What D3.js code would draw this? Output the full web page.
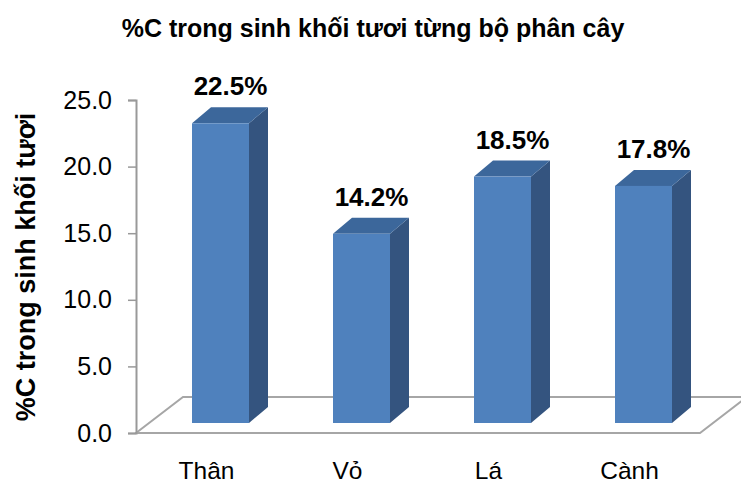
<!DOCTYPE html>
<html>
<head>
<meta charset="utf-8">
<script src="https://cdn.jsdelivr.net/npm/d3@7"></script>
<style>
  html, body { margin: 0; padding: 0; background: #fff; }
  svg { display: block; font-family: "Liberation Sans", Arial, sans-serif; }
</style>
</head>
<body>
<svg id="chart" width="741" height="485"></svg>
<script>
// Share of carbon in fresh biomass, by tree part
const categories = ["Thân", "Vỏ", "Lá", "Cành"];
const carbonPct = [22.5, 14.2, 18.5, 17.8];
const tickValues = [0, 5, 10, 15, 20, 25];

const svg = d3.select("#chart");

// Front-left plotting frame
const x0 = 136, x1 = 700, yBase = 433, yTop = 100;
const depthX = 47, depthY = 36;           // floor depth offset
const barDX = 19, barDY = 16;             // bar depth offset
const barLift = 10, barShift = 14, barW = 57;

const x = d3.scaleBand().domain(categories).range([x0, x1]);
const y = d3.scaleLinear().domain([0, 25]).range([yBase, yTop]);

// Floor parallelogram
const floor = d3.path();
floor.moveTo(x0, yBase);
floor.lineTo(x0 + depthX, yBase - depthY);
floor.lineTo(x1 + depthX, yBase - depthY);
floor.lineTo(x1, yBase);
floor.closePath();
svg.append("path").attr("d", floor.toString())
  .attr("fill", "none").attr("stroke", "#a6a6a6").attr("stroke-width", 2);

// Value axis
const axis = svg.append("g").attr("transform", `translate(${x0},0)`)
  .call(d3.axisLeft(y).tickValues(tickValues).tickSize(8).tickPadding(16)
    .tickFormat(d3.format(".1f")));
axis.select(".domain").attr("stroke", "#999").attr("stroke-width", 2);
axis.selectAll(".tick line").attr("stroke", "#999").attr("stroke-width", 1.5);
axis.selectAll(".tick text").attr("font-size", 25).attr("fill", "#000")
  .attr("font-family", "Liberation Sans, Arial, sans-serif");

// 3D bars
const bars = svg.append("g").selectAll("g").data(categories.map((c, i) => ({ c, v: carbonPct[i] })))
  .join("g");

bars.each(function (d) {
  const g = d3.select(this);
  const left = x(d.c) + x.bandwidth() / 2 + barShift - barW / 2;
  const right = left + barW;
  const bottom = y(0) - barLift;
  const top = y(d.v) - barLift;
  // side face
  g.append("path")
    .attr("d", `M${right},${bottom} L${right + barDX},${bottom - barDY} L${right + barDX},${top - barDY} L${right},${top} Z`)
    .attr("fill", "#34547f");
  // top face
  g.append("path")
    .attr("d", `M${left},${top} L${left + barDX},${top - barDY} L${right + barDX},${top - barDY} L${right},${top} Z`)
    .attr("fill", "#3c679b");
  // front face
  g.append("rect")
    .attr("x", left).attr("y", top).attr("width", barW).attr("height", bottom - top)
    .attr("fill", "#4f81bd");
  // value label
  g.append("text")
    .attr("x", left + barW / 2 + 10).attr("y", top - 28)
    .attr("text-anchor", "middle").attr("font-size", 26).attr("font-weight", "bold")
    .attr("fill", "#000")
    .text(d3.format(".1f")(d.v) + "%");
});

// Category labels
svg.append("g").selectAll("text").data(categories).join("text")
  .attr("x", d => x(d) + x.bandwidth() / 2)
  .attr("y", 479)
  .attr("text-anchor", "middle").attr("font-size", 24.5).attr("fill", "#000")
  .text(d => d);

// Title
svg.append("text")
  .attr("x", 373).attr("y", 37)
  .attr("text-anchor", "middle").attr("font-size", 25).attr("font-weight", "bold")
  .text("%C trong sinh khối tươi từng bộ phân cây");

// Value axis title
svg.append("text")
  .attr("transform", "translate(35,267) rotate(-90)")
  .attr("text-anchor", "middle").attr("font-size", 27).attr("font-weight", "bold")
  .text("%C trong sinh khối tươi");
</script>
</body>
</html>
